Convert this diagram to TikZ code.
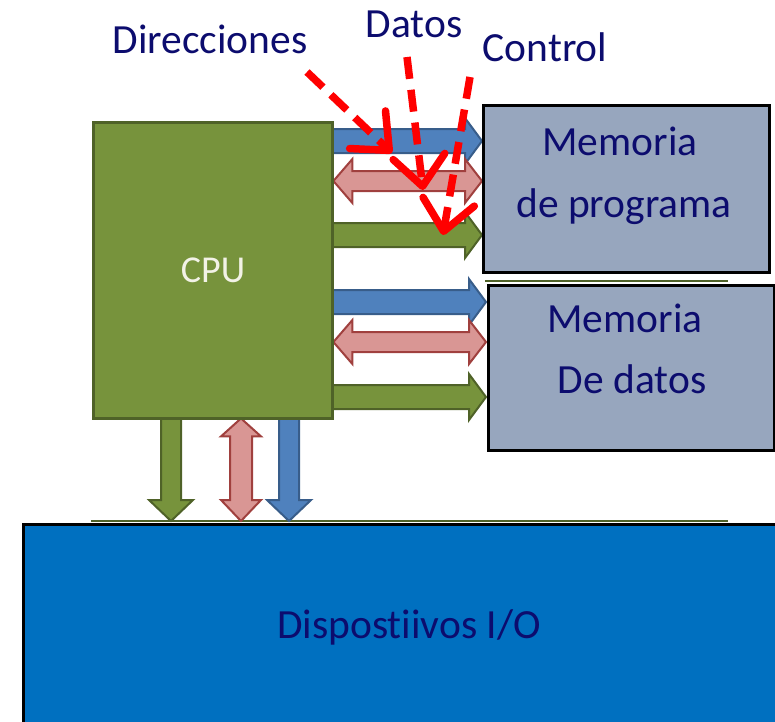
\documentclass[tikz,border=0pt]{standalone}
\usepackage{fontspec}
\setmainfont{Carlito}[Ligatures=NoCommon]
\usetikzlibrary{arrows.meta,calc}
\definecolor{navy}{HTML}{0C0C6E}
\definecolor{cpugreen}{HTML}{77933C}
\definecolor{cpuborder}{HTML}{4F6228}
\definecolor{memfill}{HTML}{97A6BE}
\definecolor{blfill}{HTML}{4F81BD}
\definecolor{bldraw}{HTML}{385D8A}
\definecolor{rdfill}{HTML}{D99694}
\definecolor{rddraw}{HTML}{A0403E}
\definecolor{iofill}{HTML}{0070C0}
\definecolor{cputext}{HTML}{F2F2E6}

\tikzset{
  busblue/.style={fill=blfill,draw=bldraw,line width=2pt,line join=miter},
  busred/.style={fill=rdfill,draw=rddraw,line width=2pt,line join=miter},
  busgreen/.style={fill=cpugreen,draw=cpuborder,line width=2pt,line join=miter},
  cpubox/.style={fill=cpugreen,draw=cpuborder,line width=3pt,anchor=north west,inner sep=0pt,
    text=cputext,font=\fontsize{38}{44}\selectfont},
  membox/.style={fill=memfill,draw=black,line width=2.5pt,anchor=north west,inner sep=0pt},
  iobox/.style={fill=iofill,draw=black,line width=2.5pt,anchor=north west,inner sep=0pt},
  txt/.style={text=navy,font=\fontsize{41.5}{48}\selectfont,anchor=base,inner sep=0pt},
  ptr/.style={draw=red,line width=7.5pt,dash pattern=on 22pt off 11pt,
    -{Straight Barb[length=30pt,width=52pt,round]}},
  thinline/.style={draw=cpuborder,line width=2pt},
}

% right-pointing bus arrow
\newcommand\busR[3]{\path[#1] let \p1=(#2), \p2=(#3) in
  (\x1,\y1+12pt) -- (\x2-17pt,\y1+12pt) -- (\x2-17pt,\y1+23pt) -- (\x2,\y1)
  -- (\x2-17pt,\y1-23pt) -- (\x2-17pt,\y1-12pt) -- (\x1,\y1-12pt) -- cycle;}
% double horizontal bus arrow
\newcommand\busLR[3]{\path[#1] let \p1=(#2), \p2=(#3) in
  (\x1,\y1) -- (\x1+19pt,\y1+22pt) -- (\x1+19pt,\y1+10pt) -- (\x2-17pt,\y1+10pt)
  -- (\x2-17pt,\y1+22pt) -- (\x2,\y1) -- (\x2-17pt,\y1-22pt) -- (\x2-17pt,\y1-10pt)
  -- (\x1+19pt,\y1-10pt) -- (\x1+19pt,\y1-22pt) -- cycle;}
% downward bus arrow
\newcommand\busD[3]{\path[#1] let \p1=(#2), \p2=(#3) in
  (\x1-10pt,\y1) -- (\x1-10pt,\y2+21pt) -- (\x1-22pt,\y2+21pt) -- (\x1,\y2)
  -- (\x1+22pt,\y2+21pt) -- (\x1+10pt,\y2+21pt) -- (\x1+10pt,\y1) -- cycle;}
% double vertical bus arrow
\newcommand\busUD[3]{\path[#1] let \p1=(#2), \p2=(#3) in
  (\x1,\y1) -- (\x1+20pt,\y1-18pt) -- (\x1+11pt,\y1-18pt) -- (\x1+11pt,\y2+21pt)
  -- (\x1+20pt,\y2+21pt) -- (\x1,\y2) -- (\x1-20pt,\y2+21pt) -- (\x1-11pt,\y2+21pt)
  -- (\x1-11pt,\y1-18pt) -- (\x1-20pt,\y1-18pt) -- cycle;}

\begin{document}
\begin{tikzpicture}[x=1pt,y=-1pt]
\useasboundingbox (0,0) rectangle (775,721);
\clip (0,0) rectangle (775,721);

% invisible reference nodes for geometry
\path (92,121) node[anchor=north west,minimum width=239pt,minimum height=296pt,inner sep=0pt] (cpuref) {};
\path (482,104) node[anchor=north west,minimum width=286pt,minimum height=167pt,inner sep=0pt] (mpref) {};
\path (487,284) node[anchor=north west,minimum width=286pt,minimum height=165pt,inner sep=0pt] (mdref) {};
\path (22,523) node[anchor=north west,minimum width=770pt,minimum height=220pt,inner sep=0pt] (ioref) {};

% thin green lines
\coordinate (g1a) at (485,281);
\coordinate (g1b) at (728,281);
\coordinate (g2a) at (91,521);
\coordinate (g2b) at (728,521);
\draw[thinline] (g1a) -- (g1b);
\draw[thinline] (g2a) -- (g2b);

% bus endpoints
\coordinate (a1s) at (cpuref.east |- 0,141);
\coordinate (a1e) at (mpref.west |- 0,141);
\coordinate (a2s) at ([xshift=2pt]cpuref.east |- 0,181);
\coordinate (a2e) at (mpref.west |- 0,181);
\coordinate (a3s) at (cpuref.east |- 0,235);
\coordinate (a3e) at (mpref.west |- 0,235);
\coordinate (a4s) at (cpuref.east |- 0,302);
\coordinate (a4e) at ([xshift=-1pt]mdref.west |- 0,302);
\coordinate (a5s) at ([xshift=2pt]cpuref.east |- 0,342);
\coordinate (a5e) at ([xshift=-1pt]mdref.west |- 0,342);
\coordinate (a6s) at (cpuref.east |- 0,397);
\coordinate (a6e) at ([xshift=-1pt]mdref.west |- 0,397);
\coordinate (v1s) at (cpuref.south -| 171,0);
\coordinate (v1e) at ([yshift=2pt]ioref.north -| 171,0);
\coordinate (v2s) at ([yshift=-1pt]cpuref.south -| 241,0);
\coordinate (v2e) at ([yshift=2pt]ioref.north -| 241,0);
\coordinate (v3s) at (cpuref.south -| 289,0);
\coordinate (v3e) at ([yshift=2pt]ioref.north -| 289,0);

\busR{busblue}{a1s}{a1e}
\busLR{busred}{a2s}{a2e}
\busR{busgreen}{a3s}{a3e}
\busR{busblue}{a4s}{a4e}
\busLR{busred}{a5s}{a5e}
\busR{busgreen}{a6s}{a6e}
\busD{busgreen}{v1s}{v1e}
\busUD{busred}{v2s}{v2e}
\busD{busblue}{v3s}{v3e}

% boxes
\node[cpubox,minimum width=239pt,minimum height=296pt] (cpu) at (92,121) {CPU};
\node[membox,minimum width=286pt,minimum height=167pt] (mp) at (482,104) {};
\node[membox,minimum width=286pt,minimum height=165pt] (md) at (487,284) {};
\node[iobox,minimum width=770pt,minimum height=220pt] (io) at (22,523) {};

% texts
\node[txt] (mp1) at (620,155) {Memoria};
\node[txt] (mp2) at (624,217) {de programa};
\node[txt] (md1) at (625,332) {Memoria};
\node[txt] (md2) at (632,393) {De datos};
\node[txt] (iot) at (409,638) {Dispostiivos I/O};
\node[txt] (ldir) at (210,53) {Direcciones};
\node[txt] (ldat) at (414,37) {Datos};
\node[txt] (lctl) at (545,61) {Control};

% dashed pointers
\coordinate (p1s) at (307,72);
\coordinate (p1e) at (392,153);
\coordinate (p2s) at (407,57);
\coordinate (p2e) at (423,190);
\coordinate (p3s) at (470,77);
\coordinate (p3e) at (443,235);
\draw[ptr] (p1s) -- (p1e);
\draw[ptr] (p2s) -- (p2e);
\draw[ptr] (p3s) -- (p3e);
\end{tikzpicture}
\end{document}
